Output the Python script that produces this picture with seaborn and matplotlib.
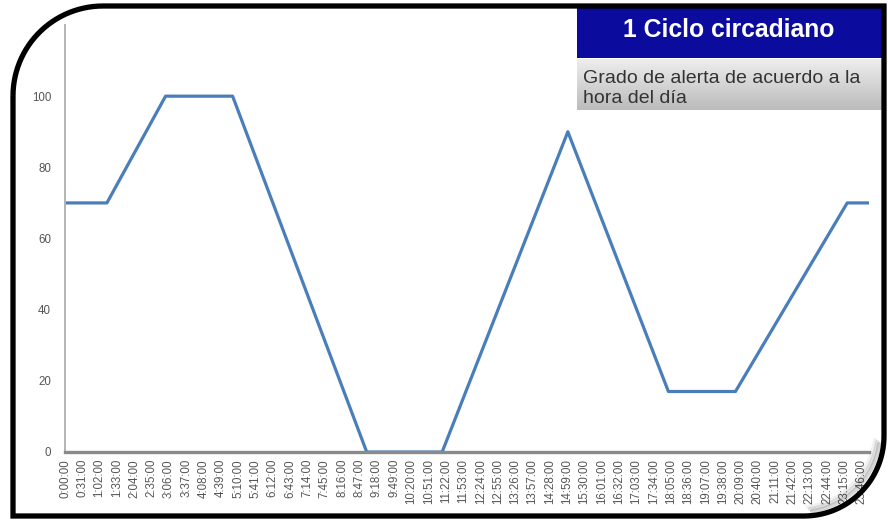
import numpy as np
import pandas as pd
import matplotlib
matplotlib.use("Agg")
import matplotlib.pyplot as plt
import seaborn as sns
from matplotlib.path import Path
from matplotlib.patches import PathPatch, Rectangle
from matplotlib.colors import LinearSegmentedColormap

# Alertness level through the day (minute of day -> level)
hora_min = [0, 75, 180, 300, 540, 675, 900, 1080, 1200, 1400, 1439]
alerta = [70, 70, 100, 100, 0, 0, 90, 17, 17, 70, 70]

etiquetas_x = [
    "0:00:00", "0:31:00", "1:02:00", "1:33:00", "2:04:00", "2:35:00",
    "3:06:00", "3:37:00", "4:08:00", "4:39:00", "5:10:00", "5:41:00",
    "6:12:00", "6:43:00", "7:14:00", "7:45:00", "8:16:00", "8:47:00",
    "9:18:00", "9:49:00", "10:20:00", "10:51:00", "11:22:00", "11:53:00",
    "12:24:00", "12:55:00", "13:26:00", "13:57:00", "14:28:00", "14:59:00",
    "15:30:00", "16:01:00", "16:32:00", "17:03:00", "17:34:00", "18:05:00",
    "18:36:00", "19:07:00", "19:38:00", "20:09:00", "20:40:00", "21:11:00",
    "21:42:00", "22:13:00", "22:44:00", "23:15:00", "23:46:00",
]
ticks_y = [0, 20, 40, 60, 80, 100]

titulo = "1 Ciclo circadiano"
subtitulo = "Grado de alerta de acuerdo a la\nhora del día"

df = pd.DataFrame({"minuto": hora_min, "alerta": alerta})

sns.set_style("white")
plt.rcParams["font.family"] = ["Liberation Sans", "DejaVu Sans"]

W, H = 888, 520
fig = plt.figure(figsize=(W / 100, H / 100), dpi=100)
fig.patch.set_facecolor("white")


def frame_path(left, top, right, bottom, r_tl, r_br):
    """Rounded frame (top-left and bottom-right corners) in pixel coords."""
    pts = [(left + r_tl, top), (right, top), (right, bottom - r_br)]
    th = np.linspace(0, np.pi / 2, 30)
    cx, cy = right - r_br, bottom - r_br
    pts += [(cx + r_br * np.cos(t), cy + r_br * np.sin(t)) for t in th]
    pts += [(left, bottom), (left, top + r_tl)]
    th = np.linspace(np.pi, 1.5 * np.pi, 30)
    cx, cy = left + r_tl, top + r_tl
    pts += [(cx + r_tl * np.cos(t), cy + r_tl * np.sin(t)) for t in th]
    codes = [Path.MOVETO] + [Path.LINETO] * (len(pts) - 1) + [Path.CLOSEPOLY]
    pts.append(pts[0])
    return Path(pts, codes)


def corner_arc(right, bottom, r):
    """Open arc around the lower-right corner only."""
    th = np.linspace(0.15, np.pi / 2 - 0.15, 30)
    cx, cy = right - r, bottom - r
    return Path([(cx + r * np.cos(t), cy + r * np.sin(t)) for t in th])


# Chart axes
ax = fig.add_axes([65 / W, 1 - 452 / H, (869 - 65) / W, (452 - 25) / H], zorder=2)
ax.set_facecolor("none")
sns.lineplot(data=df, x="minuto", y="alerta", color="#4a7ebb", linewidth=2.3, ax=ax)
ax.set_xlim(0, 1439)
ax.set_ylim(0, 120)
ax.set_xlabel("")
ax.set_ylabel("")

pos_x = [int(e.split(":")[0]) * 60 + int(e.split(":")[1]) for e in etiquetas_x]
ax.set_xticks(pos_x)
ax.set_xticklabels(etiquetas_x, rotation=90, fontsize=8.3, color="#555555")
ax.set_yticks(ticks_y)
ax.set_yticklabels([str(v) for v in ticks_y], fontsize=8.3, color="#555555")
ax.tick_params(axis="x", length=0, pad=5)
ax.tick_params(axis="y", length=4, width=1, color="#b0b0b0", pad=6)
for s in ["top", "right"]:
    ax.spines[s].set_visible(False)
ax.spines["left"].set_color("#b3b3b3")
ax.spines["left"].set_linewidth(1.4)
ax.spines["bottom"].set_color("#8a8a8a")
ax.spines["bottom"].set_linewidth(2.4)

# Overlay: header boxes and the rounded frame
ov = fig.add_axes([0, 0, 1, 1], zorder=5)
ov.set_facecolor("none")
ov.axis("off")

ov.add_patch(Rectangle((577, 8), 307, 50, facecolor="#0b0b9e", edgecolor="none"))
ov.text(729, 30, titulo, color="white", fontsize=17.8, fontweight="bold",
        ha="center", va="center")

grad = np.linspace(0, 1, 64).reshape(-1, 1)
cmap = LinearSegmentedColormap.from_list("gris", ["#ededed", "#bcbcbc"])
ov.imshow(grad, cmap=cmap, extent=(577, 884, 110, 59), aspect="auto",
          interpolation="bilinear", zorder=1)
ov.text(583, 70, subtitulo, color="#333333", fontsize=14, ha="left", va="top",
        linespacing=1.2, zorder=2)

# soft shadow inside the lower-right corner
for k, a in [(8, 0.06), (6, 0.1), (4, 0.16)]:
    ov.add_patch(PathPatch(corner_arc(884 - k, 516 - k, 80), fill=False,
                           edgecolor="black", lw=3, alpha=a, zorder=3,
                           capstyle="round"))
ov.add_patch(PathPatch(frame_path(13, 6, 884, 516, 90, 80), fill=False,
                       edgecolor="black", lw=3.8, zorder=4))

ov.set_xlim(0, W)
ov.set_ylim(H, 0)

fig.savefig("out.png", dpi=100)
